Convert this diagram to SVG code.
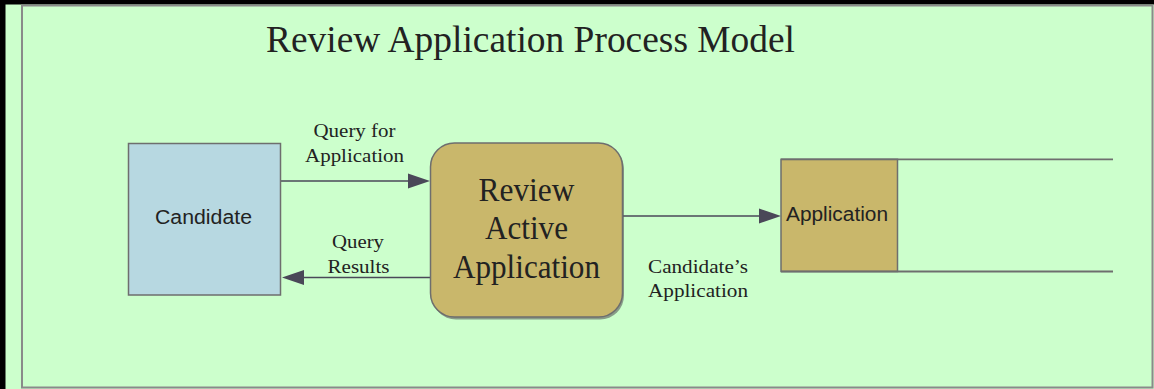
<svg xmlns="http://www.w3.org/2000/svg" width="1154" height="389" viewBox="0 0 1154 389">
  <style>
    .serif { font-family: "Liberation Serif", "Times New Roman", serif; fill: #222; }
    .sans { font-family: "Liberation Sans", Arial, sans-serif; fill: #222; }
    .conn { stroke: #4a4858; stroke-width: 1.7; fill: none; }
    .head { fill: #4a4858; }
    .box { stroke: #6e6e6e; stroke-width: 1.5; }
  </style>
  <!-- background and frame -->
  <rect x="0" y="0" width="1154" height="389" fill="#ccffcc"/>
  <rect x="0" y="0" width="1154" height="4.5" fill="#000"/>
  <rect x="0" y="0" width="5.5" height="389" fill="#000"/>
  <rect x="22" y="5.5" width="1130.5" height="382" fill="none" stroke="#8a8a8a" stroke-width="2"/>

  <text class="serif" x="530.5" y="52" font-size="38" text-anchor="middle" textLength="529" lengthAdjust="spacingAndGlyphs">Review Application Process Model</text>

  <g id="connectors">
    <line class="conn" x1="281" y1="181" x2="410" y2="181"/>
    <polygon class="head" points="430,181 408,173.5 408,188.5"/>
    <line class="conn" x1="431" y1="277.5" x2="302" y2="277.5"/>
    <polygon class="head" points="282,277.5 304,270 304,285"/>
    <line class="conn" x1="623" y1="216" x2="761" y2="216"/>
    <polygon class="head" points="781,216 759,208.5 759,223.5"/>
    <text class="serif" x="354.5" y="137" font-size="19" text-anchor="middle" textLength="82" lengthAdjust="spacingAndGlyphs">Query for</text>
    <text class="serif" x="354.5" y="162" font-size="19" text-anchor="middle" textLength="99" lengthAdjust="spacingAndGlyphs">Application</text>
    <text class="serif" x="358" y="248" font-size="19" text-anchor="middle" textLength="52" lengthAdjust="spacingAndGlyphs">Query</text>
    <text class="serif" x="358.5" y="273" font-size="19" text-anchor="middle" textLength="62" lengthAdjust="spacingAndGlyphs">Results</text>
    <text class="serif" x="698" y="272.5" font-size="19" text-anchor="middle" textLength="100" lengthAdjust="spacingAndGlyphs">Candidate’s</text>
    <text class="serif" x="698" y="297" font-size="19" text-anchor="middle" textLength="100" lengthAdjust="spacingAndGlyphs">Application</text>
  </g>

  <g id="candidate">
    <rect class="box" x="128.5" y="143.5" width="152" height="151.5" fill="#b7d8e1"/>
    <text class="sans" x="203.5" y="224" font-size="20" text-anchor="middle" textLength="97" lengthAdjust="spacingAndGlyphs">Candidate</text>
  </g>

  <g id="review">
    <rect x="432" y="145" width="192" height="174.5" rx="24" ry="24" fill="#5a5a5a" opacity="0.6"/>
    <rect class="box" x="430.5" y="143" width="192" height="174" rx="24" ry="24" fill="#c9b76b"/>
    <text class="serif" x="526.5" y="201" font-size="33" text-anchor="middle" textLength="96" lengthAdjust="spacingAndGlyphs">Review</text>
    <text class="serif" x="526.5" y="238.5" font-size="33" text-anchor="middle" textLength="83" lengthAdjust="spacingAndGlyphs">Active</text>
    <text class="serif" x="526.5" y="277.5" font-size="33" text-anchor="middle" textLength="147" lengthAdjust="spacingAndGlyphs">Application</text>
  </g>

  <g id="application-store">
    <rect x="781" y="159.3" width="116.5" height="112.2" fill="#c9b76b" stroke="#6e6e6e" stroke-width="1.5"/>
    <line x1="781" y1="159.3" x2="1113" y2="159.3" stroke="#6e6e6e" stroke-width="1.8"/>
    <line x1="781" y1="271.5" x2="1113" y2="271.5" stroke="#6e6e6e" stroke-width="1.8"/>
    <text class="sans" x="837" y="220.5" font-size="20" text-anchor="middle" textLength="102" lengthAdjust="spacingAndGlyphs">Application</text>
  </g>
</svg>
